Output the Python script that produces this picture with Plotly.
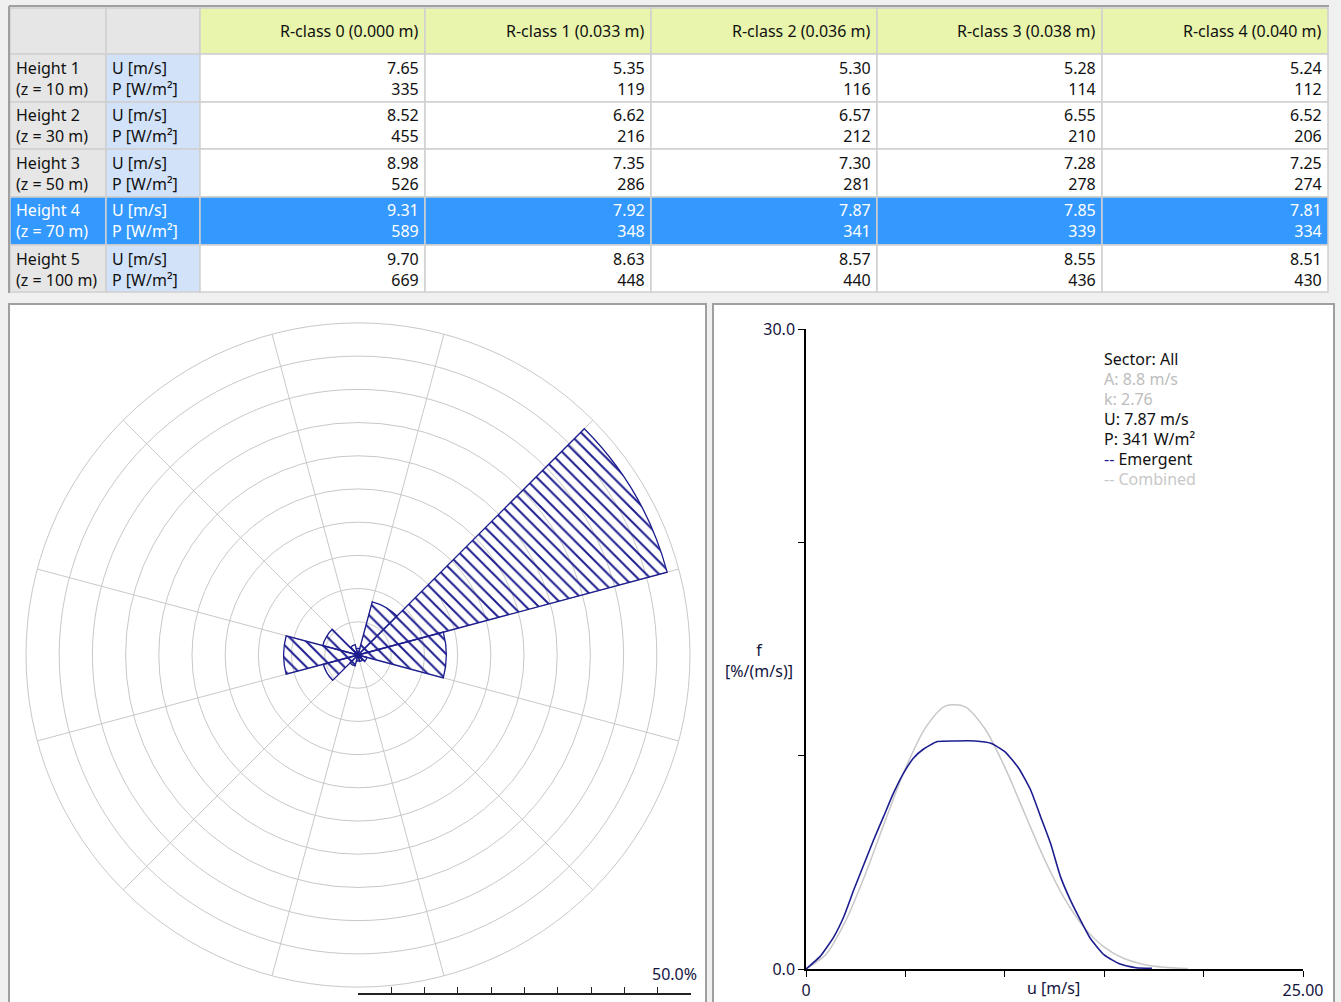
import plotly.graph_objects as go

W, H = 1341, 1002
FONT = "Noto Sans"
FS = 16
NAVY = "#1d1d8f"
LIGHT_GREY = "#c8c8c8"

# ---------------- table data ----------------
rclass_names = ["R-class 0 (0.000 m)", "R-class 1 (0.033 m)", "R-class 2 (0.036 m)",
                "R-class 3 (0.038 m)", "R-class 4 (0.040 m)"]
height_names = ["Height 1", "Height 2", "Height 3", "Height 4", "Height 5"]
height_z = [10, 30, 50, 70, 100]
quantity_lines = ["U [m/s]", "P [W/m²]"]

# mean wind speed U [m/s], rows = heights, columns = roughness classes
speed_u = [
    [7.65, 5.35, 5.30, 5.28, 5.24],
    [8.52, 6.62, 6.57, 6.55, 6.52],
    [8.98, 7.35, 7.30, 7.28, 7.25],
    [9.31, 7.92, 7.87, 7.85, 7.81],
    [9.70, 8.63, 8.57, 8.55, 8.51],
]
# power density P [W/m²]
power_p = [
    [335, 119, 116, 114, 112],
    [455, 216, 212, 210, 206],
    [526, 286, 281, 278, 274],
    [589, 348, 341, 339, 334],
    [669, 448, 440, 436, 430],
]
selected_height = 3
selected_rclass = 2

# ---------------- wind rose data ----------------
sector_dirs = [0, 30, 60, 90, 120, 150, 180, 210, 240, 270, 300, 330]
sector_freq = [1.0, 8.3, 48.2, 13.3, 1.4, 1.0, 0.9, 1.7, 5.4, 11.2, 5.5, 1.6]
rose_rmax = 50.0

# ---------------- frequency distributions ----------------
combined_u = [0, 1, 2, 3, 4, 5, 6, 7, 8, 9, 10, 11, 12, 13, 14, 15, 16, 17, 18, 19.2]
combined_f = [0, 0.68, 2.27, 4.48, 6.99, 9.40, 11.29, 12.32, 12.29, 11.26, 9.46,
              7.29, 5.14, 3.31, 1.94, 1.03, 0.49, 0.21, 0.08, 0.02]
emergent_u = [0, 0.7, 1.4, 1.9, 2.4, 2.8, 3.4, 3.9, 4.4, 4.9, 5.4, 5.9, 6.6, 7.5, 8.5,
              9.3, 10.0, 10.7, 11.3, 11.8, 12.3, 12.8, 13.3, 13.8, 14.3, 15.0, 15.8, 16.6, 17.4]
emergent_f = [0, 0.58, 1.51, 2.45, 3.70, 4.64, 6.05, 7.14, 8.24, 9.17, 9.88, 10.30, 10.66,
              10.69, 10.69, 10.58, 10.19, 9.41, 8.39, 7.14, 5.89, 4.33, 3.23, 2.30, 1.44,
              0.66, 0.23, 0.06, 0.03]
weibull_A = 8.8
weibull_k = 2.76


def px(x):
    return x / W


def py(y):
    return 1 - y / H


fig = go.Figure()
shapes = []
annotations = []

# ---------------- table (cells as shapes, text as annotations) ----------------
GREY_CELL = "#e6e6e6"
BLUE_CELL = "#d2e3f9"
SEL = "#3399ff"
HEAD_Y = "#e9f5ac"
CELL_LINE = "#d0d0d0"
TXT = "#111111"

col_edges = [10, 106, 200, 425, 651, 877, 1102, 1328]
row_edges = [8, 54, 102, 149, 197, 245, 292]


def cell(x0, x1, y0, y1, fill):
    shapes.append(dict(type="rect", xref="paper", yref="paper",
                       x0=px(x0), x1=px(x1), y0=py(y1), y1=py(y0),
                       fillcolor=fill, line=dict(color=CELL_LINE, width=1.5), layer="below"))


def text(t, x, y, anchor, color, size=FS):
    annotations.append(dict(text=t, x=px(x), y=py(y), xanchor=anchor, yanchor="middle",
                            align=anchor if anchor != "center" else "center",
                            xref="paper", yref="paper", showarrow=False,
                            font=dict(family=FONT, size=size, color=color)))


# header row
for c in range(len(col_edges) - 1):
    fill = GREY_CELL if c < 2 else HEAD_Y
    cell(col_edges[c], col_edges[c + 1], row_edges[0], row_edges[1], fill)
for j, name in enumerate(rclass_names):
    text(name, col_edges[j + 3] - 4, (row_edges[0] + row_edges[1]) / 2, "right", TXT)

# body rows
for i in range(len(height_names)):
    top, bot = row_edges[i + 1], row_edges[i + 2]
    mid = top + 24
    sel = i == selected_height
    fc = "#ffffff" if sel else TXT
    cell(col_edges[0], col_edges[1], top, bot, SEL if sel else GREY_CELL)
    cell(col_edges[1], col_edges[2], top, bot, SEL if sel else BLUE_CELL)
    text(f"{height_names[i]}<br>(z = {height_z[i]} m)", col_edges[0] + 4, mid, "left", fc)
    text("<br>".join(quantity_lines), col_edges[1] + 4, mid, "left", fc)
    for j in range(len(rclass_names)):
        cell(col_edges[j + 2], col_edges[j + 3], top, bot, SEL if sel else "#ffffff")
        text(f"{speed_u[i][j]:.2f}<br>{power_p[i][j]}", col_edges[j + 3] - 4, mid, "right", fc)

# table frame
shapes.append(dict(type="line", xref="paper", yref="paper", x0=px(9), x1=px(1329),
                   y0=py(6), y1=py(6), line=dict(color="#a0a0a0", width=2)))
shapes.append(dict(type="line", xref="paper", yref="paper", x0=px(9), x1=px(9),
                   y0=py(6), y1=py(293), line=dict(color="#a0a0a0", width=2)))

# ---------------- panels ----------------
shapes.append(dict(type="rect", xref="paper", yref="paper", x0=px(9), x1=px(706),
                   y0=py(1008), y1=py(304), fillcolor="#ffffff",
                   line=dict(color="#a0a0a0", width=2), layer="below"))
shapes.append(dict(type="rect", xref="paper", yref="paper", x0=px(713), x1=px(1334),
                   y0=py(1008), y1=py(304), fillcolor="#ffffff",
                   line=dict(color="#a0a0a0", width=2), layer="below"))

# ---------------- wind rose ----------------
fig.add_trace(go.Barpolar(
    r=sector_freq,
    theta=sector_dirs,
    width=[30] * len(sector_dirs),
    marker=dict(
        color=NAVY,
        line=dict(color=NAVY, width=1.3),
        pattern=dict(shape="\\", size=9, solidity=0.22, fillmode="replace",
                     fgcolor=NAVY, fgopacity=1, bgcolor="rgba(255,255,255,0)"),
    ),
    showlegend=False,
    hoverinfo="skip",
))

# ---------------- frequency distribution ----------------
fig.add_trace(go.Scatter(
    x=combined_u, y=combined_f, mode="lines",
    line=dict(color=LIGHT_GREY, width=1.5, shape="spline", smoothing=0.8),
    xaxis="x2", yaxis="y2", showlegend=False, hoverinfo="skip",
))
fig.add_trace(go.Scatter(
    x=emergent_u, y=emergent_f, mode="lines",
    line=dict(color=NAVY, width=1.6, shape="spline", smoothing=0.5),
    xaxis="x2", yaxis="y2", showlegend=False, hoverinfo="skip",
))
# carrier for the rose scale bar axis
fig.add_trace(go.Scatter(x=[], y=[], xaxis="x3", yaxis="y3", showlegend=False))

NUM = "#141440"
text(f"{rose_rmax:.1f}%", 699, 974, "right", NUM)
text("u [m/s]", 1053, 988, "center", NUM)
text("f<br>[%/(m/s)]", 759, 660, "center", NUM)

sel_u = speed_u[selected_height][selected_rclass]
sel_p = power_p[selected_height][selected_rclass]
legend_lines = [
    ("Sector: All", TXT),
    (f"A: {weibull_A:.1f} m/s", "#bdbdbd"),
    (f"k: {weibull_k:.2f}", "#bdbdbd"),
    (f"U: {sel_u:.2f} m/s", TXT),
    (f"P: {sel_p} W/m²", TXT),
    (f"<span style='color:{NAVY}'>--</span> Emergent", TXT),
    ("-- Combined", "#c8c8c8"),
]
for i, (t, col) in enumerate(legend_lines):
    text(t, 1102, 359 + 20 * i, "left", col)

axis_font = dict(family=FONT, size=FS, color=NUM)
fig.update_layout(
    width=W, height=H, autosize=False,
    margin=dict(l=0, r=0, t=0, b=0, pad=0, autoexpand=False),
    paper_bgcolor="#f0f0f0",
    plot_bgcolor="rgba(0,0,0,0)",
    showlegend=False,
    shapes=shapes,
    annotations=annotations,
    polar=dict(
        domain=dict(x=[px(26), px(690)], y=[py(987), py(323)]),
        bgcolor="rgba(0,0,0,0)",
        radialaxis=dict(range=[0, rose_rmax], tickvals=[5, 10, 15, 20, 25, 30, 35, 40, 45],
                        showticklabels=False, ticks="", showline=False,
                        gridcolor=LIGHT_GREY, gridwidth=1, layer="below traces"),
        angularaxis=dict(direction="clockwise", rotation=90,
                         tickvals=[15 + 30 * i for i in range(12)],
                         showticklabels=False, ticks="", showline=True,
                         linecolor=LIGHT_GREY, linewidth=1,
                         gridcolor=LIGHT_GREY, gridwidth=1, layer="below traces"),
    ),
    xaxis2=dict(domain=[px(806), px(1303)], anchor="y2", range=[0, 25],
                tickvals=[0, 5, 10, 15, 20, 25], ticktext=["0", "", "", "", "", "25.00"],
                ticks="outside", ticklen=6, tickcolor="#000", showline=True,
                linecolor="#000", linewidth=1.5, showgrid=False, zeroline=False,
                tickfont=axis_font, fixedrange=True, automargin=False),
    yaxis2=dict(domain=[py(969), py(329)], anchor="x2", range=[0, 30],
                tickvals=[0, 10, 20, 30], ticktext=["0.0", "", "", "30.0"],
                ticks="outside", ticklen=6, tickcolor="#000", showline=True,
                linecolor="#000", linewidth=1.5, showgrid=False, zeroline=False,
                tickfont=axis_font, fixedrange=True, automargin=False),
    xaxis3=dict(domain=[px(358), px(691)], anchor="y3", range=[0, rose_rmax],
                tickvals=[5 * i for i in range(11)], showticklabels=False,
                ticks="inside", ticklen=6, tickcolor="#222", showline=True,
                linecolor="#222", linewidth=1.5, showgrid=False, zeroline=False,
                fixedrange=True, automargin=False),
    yaxis3=dict(domain=[py(993), py(985)], anchor="x3", visible=False, fixedrange=True,
                automargin=False),
)

fig.write_html("out.html", post_script="document.body.style.margin='0px';")
